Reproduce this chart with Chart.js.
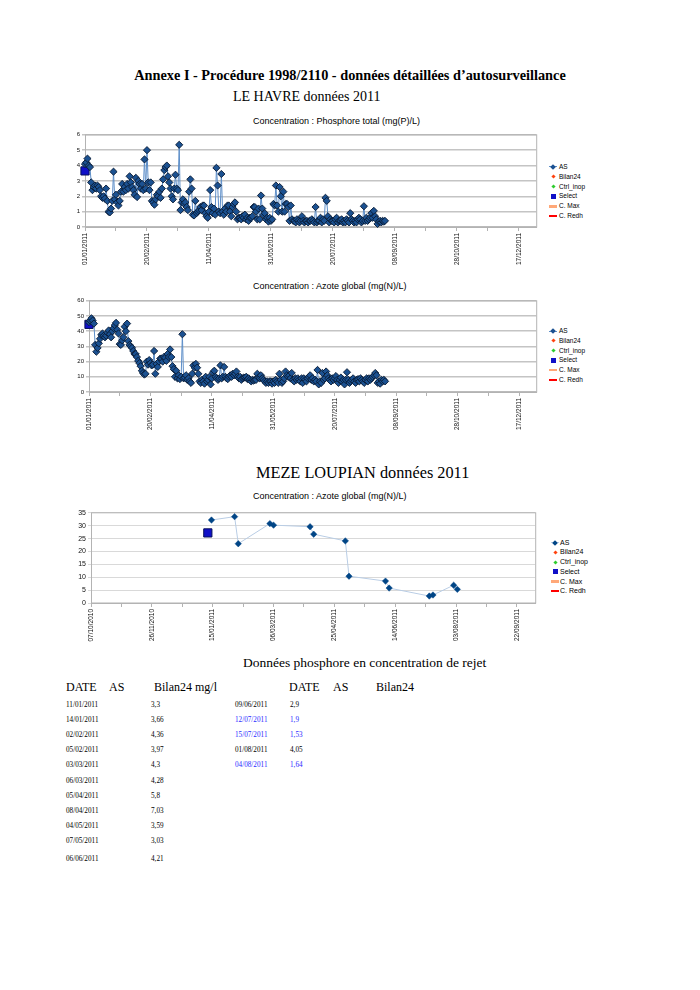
<!DOCTYPE html>
<html lang="fr">
<head>
<meta charset="utf-8">
<title>LE HAVRE / MEZE LOUPIAN données 2011</title>
<script src="https://cdn.jsdelivr.net/npm/chart.js@4.4.1/dist/chart.umd.min.js"></script>
<style>
  body { margin: 0; background: #fff; }
  #page { position: relative; width: 700px; height: 990px; overflow: hidden; font-family: "Liberation Serif", "DejaVu Serif", serif; color: #000; }
  .txt { position: absolute; white-space: nowrap; }
  .chartbox { position: absolute; }
  .ctitle { position: absolute; white-space: nowrap; font-family: "Liberation Sans", Arial, sans-serif; font-size: 9px; line-height: 11px; }
  .leg { position: absolute; height: 10px; font-family: "Liberation Sans", Arial, sans-serif; white-space: nowrap; line-height: 10px; }
  .mk { position: absolute; box-sizing: border-box; }
</style>
</head>
<body>
<div id="page">
  <div class="txt" style="left:0;width:700px;text-align:center;top:67px;font-size:14.3px;line-height:16px;font-weight:bold">Annexe I - Procédure 1998/2110 - données détaillées d’autosurveillance</div>
  <div class="txt" style="left:233px;top:89px;font-size:14px;line-height:16px">LE HAVRE données 2011</div>

  <div class="ctitle" style="left:253px;top:116px">Concentration : Phosphore total (mg(P)/L)</div>
  <div class="chartbox" style="left:60px;top:128px;width:483px;height:145px"><canvas id="chartP"></canvas></div>

  <div class="ctitle" style="left:253px;top:281px">Concentration : Azote global (mg(N)/L)</div>
  <div class="chartbox" style="left:60px;top:294px;width:483px;height:144px"><canvas id="chartN"></canvas></div>

  <div class="txt" style="left:256px;top:464px;font-size:16.3px;line-height:18px">MEZE LOUPIAN données 2011</div>
  <div class="ctitle" style="left:253px;top:491px">Concentration : Azote global (mg(N)/L)</div>
  <div class="chartbox" style="left:60px;top:506px;width:482px;height:137px"><canvas id="chartM"></canvas></div>

  <div class="txt" style="left:243px;top:655px;font-size:13.5px;line-height:16px">Données phosphore en concentration de rejet</div>
</div>

<script>
// LE HAVRE 2011 - valeurs journalieres a partir du 01/01/2011
var havreStart = '01/01/2011';
var phosphoreAS = [
  4.1, 4.2, 4.45, 4.0, 3.9, 2.9, 2.4, 2.6, 2.7, 2.5,
  2.7, 2.6, 2.4, 2.0, 1.9, 2.0, 1.85, 2.5, 1.7, 1.0,
  0.95, 1.2, 1.7, 3.6, 1.8, 2.1, 1.6, 1.4, 1.7, 2.3,
  2.8, 2.3, 2.6, 2.4, 2.8, 2.5, 3.3, 2.9, 2.6, 2.4,
  2.1, 3.2, 1.95, 3.0, 2.8, 2.5, 2.8, 2.4, 4.4, 2.5,
  5.0, 2.9, 2.4, 2.9, 1.7, 1.6, 1.45, 1.8, 2.1, 2.0,
  2.3, 1.9, 2.5, 3.1, 3.7, 3.9, 4.0, 3.3, 2.9, 2.5,
  2.0, 1.8, 2.5, 3.4, 2.5, 2.4, 5.35, 1.1, 1.6, 1.8,
  1.5, 1.6, 1.3, 1.1, 2.3, 3.1, 2.5, 0.8, 0.75, 1.7,
  0.9, 1.0, 1.1, 1.3, 1.1, 1.4, 1.4, 0.9, 0.7, 0.6,
  1.0, 2.4, 1.3, 0.9, 1.2, 0.8, 3.85, 2.7, 1.0, 0.9,
  3.45, 1.0, 0.8, 1.2, 1.0, 1.4, 1.4, 1.0, 0.7, 1.3,
  1.5, 1.6, 1.0, 0.5, 0.6, 0.6, 0.5, 0.7, 0.6, 0.8,
  0.5, 0.6, 0.4, 0.6, 0.6, 0.7, 1.3, 1.3, 1.0, 0.5,
  1.2, 0.5, 2.05, 1.2, 0.8, 0.9, 0.5, 0.6, 0.35, 0.6,
  0.4, 0.5, 1.5, 1.4, 2.7, 1.4, 1.0, 2.6, 2.0, 1.0,
  2.3, 1.0, 1.5, 1.5, 1.3, 0.4, 1.4, 0.5, 0.4, 0.4,
  0.3, 0.5, 0.4, 0.3, 0.4, 0.7, 0.4, 0.3, 0.4, 0.4,
  0.3, 0.4, 0.4, 0.5, 0.4, 0.3, 1.3, 0.3, 0.4, 0.4,
  0.6, 0.3, 0.5, 0.4, 1.9, 1.7, 0.7, 0.3, 0.5, 0.4,
  0.4, 0.3, 0.5, 0.6, 0.3, 0.4, 0.4, 0.5, 0.3, 0.4,
  0.3, 0.5, 0.4, 0.3, 0.9, 0.5, 0.4, 0.3, 0.4, 0.3,
  0.5, 0.6, 0.5, 0.3, 0.4, 1.35, 0.4, 0.6, 0.4, 0.5,
  0.6, 0.9, 0.6, 1.05, 0.7, 0.5, 0.2, 0.35, 0.4, 0.3,
  0.4, 0.35, 0.4
];
var phosphoreSelectDates = ['01/01/2011'];
var phosphoreSelect = [3.65];

var azoteAS = [
  46, 47, 48.5, 47, 45, 31, 26.5, 29, 32, 35,
  37.5, 38.5, 37, 36, 37, 39, 40.5, 38, 36, 40,
  42, 44, 45.5, 41, 38.5, 31.5, 31, 34, 36, 43,
  40, 45, 33.5, 31, 30, 29, 27, 25, 25, 23,
  20.5, 19, 17, 14, 12.5, 11.5, 12, 20, 18, 21,
  19, 17.5, 18, 27, 12, 18.5, 16.5, 20, 22, 22,
  20, 23, 22.5, 20.5, 25, 23, 28, 23, 17, 15,
  10, 14, 9, 11, 8.5, 10, 38, 9, 9.5, 11,
  8, 9, 7, 6, 12, 17.5, 16, 18.5, 16, 12,
  7, 6, 8, 7, 5.5, 10, 7, 8, 10, 5,
  9, 13, 14, 10, 9, 8, 9, 17.5, 9, 10,
  16.5, 10, 9, 8.5, 10, 11, 10, 12, 11, 12,
  13.5, 10, 9, 10, 8, 9, 9.5, 9.5, 10, 8.5,
  9, 8, 7, 8, 7.5, 8, 8, 12, 9.5, 9,
  11, 9, 8, 7, 6, 7, 6, 7, 7, 5.5,
  7, 6, 8, 7, 6, 12, 8, 6, 7, 9,
  13.5, 11, 10, 11, 9, 12.5, 8, 7, 9, 8,
  9, 8, 7, 9, 6, 9, 8, 7, 9, 10,
  11, 8, 9, 7, 8, 7, 14.5, 5, 7, 6,
  12.5, 8, 9, 13.5, 11, 9, 8, 7, 9, 8,
  9, 10.5, 8, 6, 8, 9.5, 7, 8, 5, 8,
  13, 8, 6, 7, 8, 9, 7, 6, 8, 8.5,
  7, 9, 8, 7, 6, 8, 9, 7, 9, 8,
  9, 10, 11, 12.5, 11, 6, 7, 5.5, 8, 7,
  8, 7
];
var azoteSelectDates = ['01/01/2011'];
var azoteSelect = [44.5];

// MEZE LOUPIAN 2011
var mezeStart = '07/10/2010';
var mezeDates = ['14/01/2011', '02/02/2011', '05/02/2011', '03/03/2011', '06/03/2011',
  '05/04/2011', '08/04/2011', '04/05/2011', '07/05/2011', '06/06/2011', '09/06/2011',
  '12/07/2011', '15/07/2011', '01/08/2011', '04/08/2011'];
var mezeAS = [32.2, 33.5, 23, 30.8, 30.2, 29.6, 26.7, 24.1, 10.4, 8.5, 5.8, 2.7, 3.1, 6.9, 5.3];
var mezeSelectDates = ['11/01/2011'];
var mezeSelect = [27.2];

// tableau phosphore
var tabDatesL = ['11/01/2011', '14/01/2011', '02/02/2011', '05/02/2011', '03/03/2011', '06/03/2011',
  '05/04/2011', '08/04/2011', '04/05/2011', '07/05/2011', '06/06/2011'];
var tabBilanL = [3.3, 3.66, 4.36, 3.97, 4.3, 4.28, 5.8, 7.03, 3.59, 3.03, 4.21];
var tabDatesR = ['09/06/2011', '12/07/2011', '15/07/2011', '01/08/2011', '04/08/2011'];
var tabBilanR = [2.9, 1.9, 1.53, 4.05, 1.64];
var tabBlueR = [false, true, true, false, true];

function parseFr(s) {
    var p = s.split('/');
    return Date.UTC(+p[2], +p[1] - 1, +p[0]);
}
function dayOf(s, start) {
    return Math.round((parseFr(s) - parseFr(start)) / 86400000);
}
function fmtDay(start, n) {
    var d = new Date(parseFr(start) + n * 86400000);
    var dd = ('0' + d.getUTCDate()).slice(-2), mm = ('0' + (d.getUTCMonth() + 1)).slice(-2);
    return dd + '/' + mm + '/' + d.getUTCFullYear();
}

// cadre gris autour de la zone de tracé
var framePlugin = {
    id: 'frame',
    beforeDatasetsDraw: function(chart, args, opts) {
        var a = chart.chartArea, ctx = chart.ctx;
        ctx.save();
        ctx.strokeStyle = opts.color || '#b3b3b3';
        ctx.lineWidth = 1;
        ctx.strokeRect(a.left + 0.5, a.top, a.right - a.left, a.bottom - a.top);
        ctx.restore();
    }
};

function makeChart(id, start, asPts, selPts, o) {
    var datasets = [
        { label: 'AS', data: asPts, showLine: true, borderColor: o.lineColor, borderWidth: 1,
          pointStyle: 'rectRot', pointRadius: o.r, pointBackgroundColor: o.fill,
          pointBorderColor: o.edge, pointBorderWidth: o.edgeW, clip: false, legendMark: 'diamondLine' },
        { label: 'Bilan24', data: [], pointStyle: 'rectRot', pointBackgroundColor: '#ff420e',
          borderColor: '#ff420e', legendMark: 'diamond' },
        { label: 'Ctrl_inop', data: [], pointStyle: 'rectRot', pointBackgroundColor: '#2ecc2e',
          borderColor: '#2ecc2e', legendMark: 'diamond' },
        { label: 'Select', data: selPts, pointStyle: 'rect', pointRadius: 5.8,
          pointBackgroundColor: '#1010c8', pointBorderColor: '#06105a', pointBorderWidth: 1,
          clip: false, legendMark: 'square' },
        { label: 'C. Max', data: [], showLine: true, borderColor: '#ffa878', borderWidth: 2.5, legendMark: 'line' },
        { label: 'C. Redh', data: [], showLine: true, borderColor: '#ff0000', borderWidth: 2.5, legendMark: 'line' }
    ];
    return new Chart(document.getElementById(id), {
        type: 'scatter',
        data: { datasets: datasets },
        options: {
            responsive: true,
            maintainAspectRatio: false,
            animation: false,
            events: [],
            layout: { padding: { top: 6, right: 4, left: 0, bottom: 0 } },
            plugins: {
                legend: { display: false },
                tooltip: { enabled: false },
                frame: { color: '#b3b3b3' }
            },
            scales: {
                x: {
                    type: 'linear', min: 0, max: o.xMax,
                    afterFit: function(s) { s.height = o.xH; },
                    grid: { drawOnChartArea: false, color: '#b3b3b3', tickLength: 4 },
                    border: { color: '#b3b3b3' },
                    ticks: {
                        stepSize: 25, includeBounds: false, autoSkip: false,
                        minRotation: 90, maxRotation: 90, padding: 2, color: '#111',
                        font: { family: 'Liberation Sans', size: 6.5 },
                        callback: function(v) { return v % 50 === 0 ? fmtDay(start, v) : ''; }
                    }
                },
                y: {
                    min: 0, max: o.yMax,
                    afterFit: function(s) { s.width = o.yW; },
                    grid: { color: o.grid, lineWidth: o.gridW, tickLength: 3 },
                    border: { display: false },
                    ticks: { stepSize: o.yStep, padding: 2, color: '#111',
                             font: { family: 'Liberation Sans', size: o.yFont } }
                }
            }
        },
        plugins: [framePlugin]
    });
}

function buildLegend(chart, o) {
    var page = document.getElementById('page');
    chart.data.datasets.forEach(function(ds, i) {
        var yc = o.top + i * o.step;
        var it = document.createElement('div');
        it.className = 'leg';
        it.style.left = (o.mx - 6) + 'px';
        it.style.top = (yc - 5) + 'px';
        it.style.fontSize = o.font + 'px';
        it.style.paddingLeft = (o.tx - o.mx + 6) + 'px';
        var m = ds.legendMark, c = ds.pointBackgroundColor || ds.borderColor;
        if (m === 'diamondLine') {
            it.innerHTML += '<div class="mk" style="left:2px;top:4.5px;width:8px;height:1px;background:' + ds.borderColor + '"></div>';
        }
        if (m === 'diamondLine' || m === 'diamond') {
            var s = m === 'diamond' ? 3 : 4;
            it.innerHTML += '<div class="mk" style="left:' + (6 - s / 2) + 'px;top:' + (5 - s / 2) + 'px;width:' + s + 'px;height:' + s +
                'px;background:' + c + ';transform:rotate(45deg)"></div>';
        } else if (m === 'square') {
            it.innerHTML += '<div class="mk" style="left:3.5px;top:2.5px;width:5px;height:5px;background:' + c + '"></div>';
        } else if (m === 'line') {
            it.innerHTML += '<div class="mk" style="left:2px;top:3.8px;width:8px;height:2.5px;background:' + ds.borderColor + '"></div>';
        }
        it.appendChild(document.createTextNode(ds.label));
        page.appendChild(it);
    });
}

function pts(values) {
    return values.map(function(v, i) { return { x: i, y: v }; });
}
function datedPts(dates, values, start) {
    return dates.map(function(d, i) { return { x: dayOf(d, start), y: values[i] }; });
}

var havreStyle = { lineColor: '#5d8ec8', r: 3.6, fill: '#1b5191', edge: '#081a33', edgeW: 0.9,
                   grid: '#c4c4c4', gridW: 1.5, xH: 46, xMax: 364, yFont: 6 };

var chartP = makeChart('chartP', havreStart, pts(phosphoreAS),
    datedPts(phosphoreSelectDates, phosphoreSelect, havreStart),
    Object.assign({}, havreStyle, { yMax: 6, yStep: 1, yW: 25 }));
var chartN = makeChart('chartN', havreStart, pts(azoteAS),
    datedPts(azoteSelectDates, azoteSelect, havreStart),
    Object.assign({}, havreStyle, { yMax: 60, yStep: 10, yW: 29 }));
var chartM = makeChart('chartM', mezeStart, datedPts(mezeDates, mezeAS, mezeStart),
    datedPts(mezeSelectDates, mezeSelect, mezeStart),
    { lineColor: '#b9cde5', r: 3.2, fill: '#004586', edge: '#004586', edgeW: 0.5,
      grid: '#d9d9d9', gridW: 1, xH: 40, xMax: 365, yFont: 7, yMax: 35, yStep: 5, yW: 31 });

buildLegend(chartP, { top: 166.7, step: 9.9, mx: 553, tx: 559, font: 6.5 });
buildLegend(chartN, { top: 331, step: 9.8, mx: 553, tx: 559, font: 6.5 });
buildLegend(chartM, { top: 542.7, step: 9.7, mx: 555, tx: 560, font: 7 });

// tableau des données phosphore
(function() {
    var page = document.getElementById('page');
    function put(text, x, yc, size, color) {
        var d = document.createElement('div');
        d.className = 'txt';
        d.style.left = x + 'px';
        d.style.top = (yc - size * 0.6) + 'px';
        d.style.fontSize = size + 'px';
        d.style.lineHeight = (size * 1.2) + 'px';
        if (color) d.style.color = color;
        d.textContent = text;
        page.appendChild(d);
    }
    function num(v) { return String(v).replace('.', ','); }
    put('DATE', 66, 687, 12); put('AS', 109, 687, 12); put('Bilan24 mg/l', 154, 687, 12);
    put('DATE', 289, 687, 12); put('AS', 333, 687, 12); put('Bilan24', 376, 687, 12);
    tabDatesL.forEach(function(d, i) {
        var yc = 705 + i * 15.2 + (i === tabDatesL.length - 1 ? 2 : 0);
        put(d, 66, yc, 7.2);
        put(num(tabBilanL[i]), 151, yc, 7.2);
    });
    tabDatesR.forEach(function(d, i) {
        var yc = 705 + i * 15.2;
        var col = tabBlueR[i] ? '#2b2bff' : null;
        put(d, 235, yc, 7.2, col);
        put(num(tabBilanR[i]), 290, yc, 7.2, col);
    });
})();
</script>
</body>
</html>
